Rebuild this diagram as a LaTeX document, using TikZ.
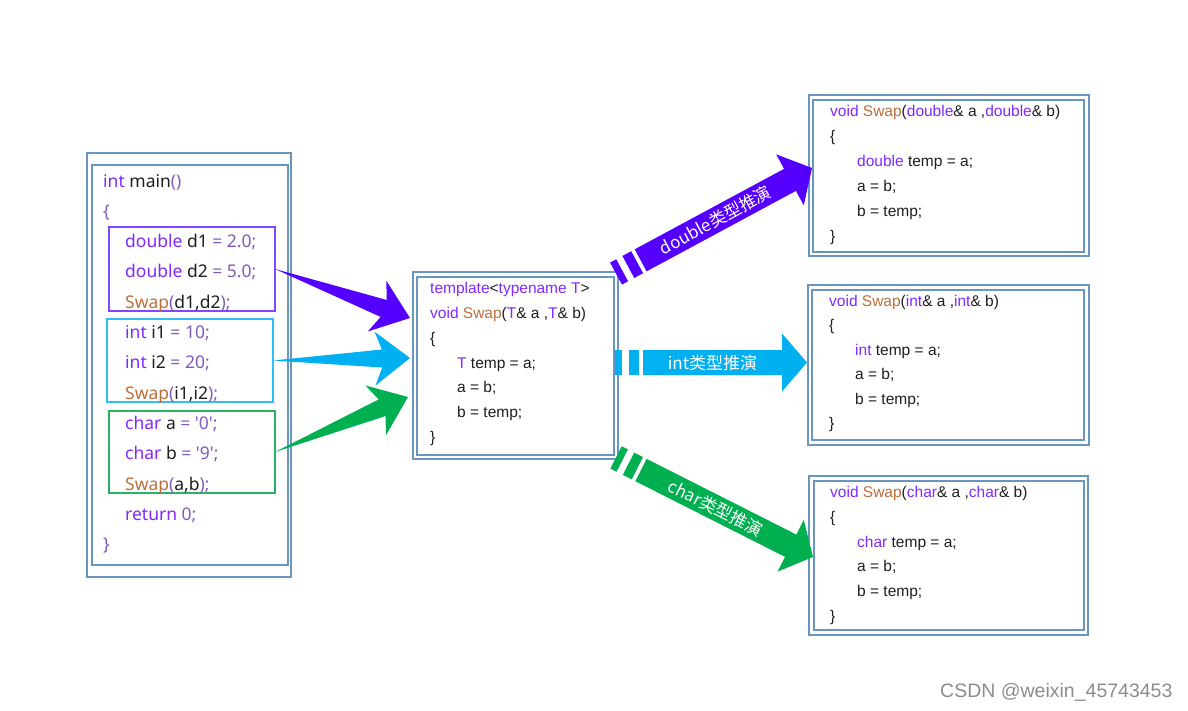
\documentclass[tikz,border=0pt]{standalone}
\usepackage{fontspec}
\newfontfamily\mainfnt{Noto Sans}
\newfontfamily\codefnt{Liberation Sans}
\newfontfamily\cjk{Noto Sans CJK SC}
\usetikzlibrary{calc}

\definecolor{framec}{RGB}{104,150,192}
\definecolor{kwc}{RGB}{128,40,255}
\definecolor{fnc}{RGB}{190,110,60}
\definecolor{pnc}{RGB}{130,90,190}
\definecolor{txtc}{RGB}{30,30,30}
\definecolor{dblc}{RGB}{85,0,255}
\definecolor{intc}{RGB}{0,176,240}
\definecolor{chrc}{RGB}{0,176,80}
\definecolor{dblbox}{RGB}{130,70,255}
\definecolor{intbox}{RGB}{50,190,240}
\definecolor{chrbox}{RGB}{40,180,100}

\newcommand{\kwd}[1]{\textcolor{kwc}{#1}}
\newcommand{\fnm}[1]{\textcolor{fnc}{#1}}
\newcommand{\pnc}[1]{\textcolor{pnc}{#1}}

\tikzset{
  mframe/.style={draw=framec, line width=2.6pt, outer sep=0pt},
  rframe/.style={draw=framec, line width=2pt, double=white, double distance=2.2pt, outer sep=0pt},
  blk/.style={line width=1.5pt, outer sep=0pt},
  typelbl/.style={text=white, font=\cjk\fontsize{17}{17}\selectfont, inner sep=0pt}
}

% thin tapered arrow, colour / tail / tip
\newcommand{\taper}[3]{%
  \path let \p1=($(#3)-(#2)$) in \pgfextra{%
    \pgfmathsetmacro\aang{atan2(\y1,\x1)}\global\let\aang\aang
    \pgfmathsetmacro\alen{veclen(\x1,\y1)}\global\let\alen\alen};
  \fill[#1, shift={(#2)}, rotate=\aang] (0,0) -- (\alen-28,-9) -- (\alen-35,-27)
    -- (\alen,0) -- (\alen-35,27) -- (\alen-28,9) -- cycle;}

% broad arrow with two dashes and a label, colour / start / tip / label
\newcommand{\fatarrow}[4]{%
  \path let \p1=($(#3)-(#2)$) in \pgfextra{%
    \pgfmathsetmacro\aang{atan2(\y1,\x1)}\global\let\aang\aang
    \pgfmathsetmacro\alen{veclen(\x1,\y1)}\global\let\alen\alen};
  \begin{scope}[shift={(#2)}, rotate=\aang]
    \fill[#1] (0,-12.5) rectangle (7,12.5);
    \fill[#1] (14,-12.5) rectangle (24,12.5);
    \fill[#1] (28,-12.5) -- (\alen-25,-12.5) -- (\alen-25,-29) -- (\alen,0)
      -- (\alen-25,29) -- (\alen-25,12.5) -- (28,12.5) -- cycle;
    \node[transform shape, typelbl] (#2-lbl) at ({(\alen+3)/2},0) {#4};
  \end{scope}}

\begin{document}
\begin{tikzpicture}[x=1pt,y=-1pt]
  \useasboundingbox (0,0) rectangle (1188,710);

  % boxes
  \node[mframe, minimum width=196pt, minimum height=400pt] (mainbox) at (190,365) {};
  \draw[mframe] ([shift={(-5,-12)}]mainbox.north west) rectangle ([shift={(3,12)}]mainbox.south east);
  \node[rframe, minimum width=201pt, minimum height=182.5pt] (tbox) at (515.5,365.75) {};
  \node[rframe, minimum width=275.5pt, minimum height=156.5pt] (dbox) at (948.75,175.75) {};
  \node[rframe, minimum width=276.5pt, minimum height=155pt] (ibox) at (948.25,365) {};
  \node[rframe, minimum width=274.5pt, minimum height=154pt] (cbox) at (948.75,555.5) {};

  \node[blk, draw=dblbox, minimum width=166pt, minimum height=84pt] (dblk) at (192,269) {};
  \node[blk, draw=intbox, minimum width=166pt, minimum height=83pt] (iblk) at (190,360.5) {};
  \node[blk, draw=chrbox, minimum width=166pt, minimum height=82pt] (cblk) at (192,452) {};

  % main
  \begin{scope}[every node/.style={anchor=base west, inner sep=0pt, text=txtc,
      font=\mainfnt\fontsize{17.5}{17.5}\selectfont}]
    \node (m1)  at (103,187)   {\kwd{int} main\pnc{()}};
    \node (m2)  at (103,217.3) {\pnc{\{}};
    \node (m3)  at (125,247.6) {\kwd{double} d1 \pnc{= 2.0;}};
    \node (m4)  at (125,277.9) {\kwd{double} d2 \pnc{= 5.0;}};
    \node (m5)  at (125,308.2) {\fnm{Swap}\pnc{(}d1,d2\pnc{);}};
    \node (m6)  at (125,338.5) {\kwd{int} i1 \pnc{= 10;}};
    \node (m7)  at (125,368.8) {\kwd{int} i2 \pnc{= 20;}};
    \node (m8)  at (125,399.1) {\fnm{Swap}\pnc{(}i1,i2\pnc{);}};
    \node (m9)  at (125,429.4) {\kwd{char} a \pnc{= '0';}};
    \node (m10) at (125,459.7) {\kwd{char} b \pnc{= '9';}};
    \node (m11) at (125,490)   {\fnm{Swap}\pnc{(}a,b\pnc{);}};
    \node (m12) at (125,520.3) {\kwd{return} \pnc{0;}};
    \node (m13) at (103,550.6) {\pnc{\}}};
  \end{scope}

  % template and the three instances
  \begin{scope}[every node/.style={anchor=base west, inner sep=0pt, text=txtc,
      font=\codefnt\fontsize{15.5}{15.5}\selectfont}]
    \node (t1) at (430,293.5) {\kwd{template}<\kwd{typename T}>};
    \node (t2) at (430,318.4) {\kwd{void} \fnm{Swap}(\kwd{T}\& a ,\kwd{T}\& b)};
    \node (t3) at (430,343.2) {\{};
    \node (t4) at (457,368.1) {\kwd{T} temp = a;};
    \node (t5) at (457,392.9) {a = b;};
    \node (t6) at (457,417.8) {b = temp;};
    \node (t7) at (430,442.6) {\}};

    \node (dl1) at (830,116.5) {\kwd{void} \fnm{Swap}(\kwd{double}\& a ,\kwd{double}\& b)};
    \node (dl2) at (830,141.4) {\{};
    \node (dl3) at (857,166.3) {\kwd{double} temp = a;};
    \node (dl4) at (857,191.2) {a = b;};
    \node (dl5) at (857,216.1) {b = temp;};
    \node (dl6) at (830,241)   {\}};

    \node (il1) at (829,306.5) {\kwd{void} \fnm{Swap}(\kwd{int}\& a ,\kwd{int}\& b)};
    \node (il2) at (829,330.9) {\{};
    \node (il3) at (855,355.3) {\kwd{int} temp = a;};
    \node (il4) at (855,379.7) {a = b;};
    \node (il5) at (855,404.1) {b = temp;};
    \node (il6) at (829,428.5) {\}};

    \node (cl1) at (830,497.5) {\kwd{void} \fnm{Swap}(\kwd{char}\& a ,\kwd{char}\& b)};
    \node (cl2) at (830,522.3) {\{};
    \node (cl3) at (857,547.1) {\kwd{char} temp = a;};
    \node (cl4) at (857,571.9) {a = b;};
    \node (cl5) at (857,596.7) {b = temp;};
    \node (cl6) at (830,621.5) {\}};
  \end{scope}

  % arrows
  \coordinate (dhit) at (410,318);
  \coordinate (ihit) at (410,358);
  \coordinate (chit) at (408,397);
  \taper{dblc}{dblk.east}{dhit}
  \taper{intc}{iblk.east}{ihit}
  \taper{chrc}{cblk.east}{chit}

  \coordinate (dgo) at (616,273.6);
  \coordinate (dend) at (812,168);
  \coordinate (igo) at (615,362.5);
  \coordinate (iend) at (807,362.5);
  \coordinate (cgo) at (616,457.4);
  \coordinate (cend) at (813,557);
  \fatarrow{dblc}{dgo}{dend}{double类型推演}
  \fatarrow{intc}{igo}{iend}{int类型推演}
  \fatarrow{chrc}{cgo}{cend}{char类型推演}

  \node[anchor=base west, inner sep=0pt, text=black!45, font=\codefnt\fontsize{19.5}{19.5}\selectfont]
    (mark) at (940,697) {CSDN @weixin\_45743453};
\end{tikzpicture}
\end{document}
